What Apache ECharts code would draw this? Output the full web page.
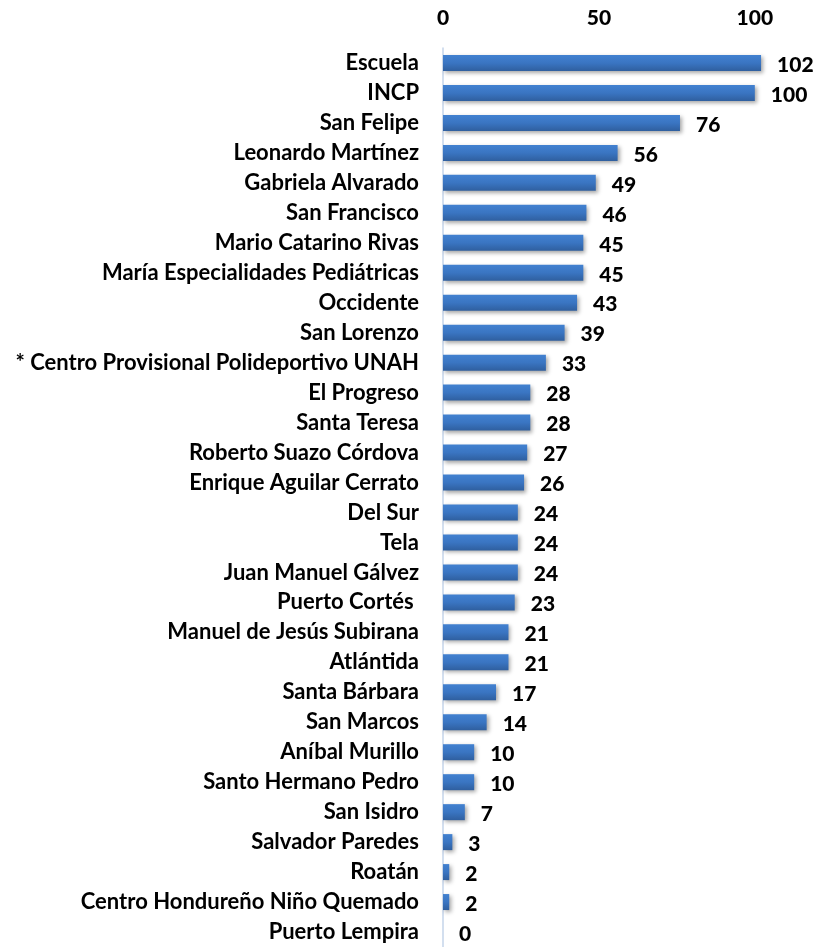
<!DOCTYPE html>
<html>
<head>
<meta charset="utf-8">
<script src="https://cdn.jsdelivr.net/npm/echarts@6/dist/echarts.min.js"></script>
<style>
  html, body { margin: 0; padding: 0; background: #fff; }
  #chart { width: 828px; height: 947px; }
</style>
</head>
<body>
<div id="chart"></div>
<script>
// categories top to bottom
const hospitals = [
  'Escuela', 'INCP', 'San Felipe', 'Leonardo Martínez', 'Gabriela Alvarado',
  'San Francisco', 'Mario Catarino Rivas', 'María Especialidades Pediátricas',
  'Occidente', 'San Lorenzo', '* Centro Provisional Polideportivo UNAH',
  'El Progreso', 'Santa Teresa', 'Roberto Suazo Córdova', 'Enrique Aguilar Cerrato',
  'Del Sur', 'Tela', 'Juan Manuel Gálvez', 'Puerto Cortés ', 'Manuel de Jesús Subirana',
  'Atlántida', 'Santa Bárbara', 'San Marcos', 'Aníbal Murillo', 'Santo Hermano Pedro',
  'San Isidro', 'Salvador Paredes', 'Roatán', 'Centro Hondureño Niño Quemado', 'Puerto Lempira'
]
const values = [102, 100, 76, 56, 49, 46, 45, 45, 43, 39, 33, 28, 28, 27, 26, 24, 24, 24, 23, 21, 21, 17, 14, 10, 10, 7, 3, 2, 2, 0]
const tickValues = [0, 50, 100]

const myChart = echarts.init(document.getElementById('chart'))
const font = 'Lato, "Liberation Sans", sans-serif'

const option = {
  backgroundColor: '#ffffff',
  animation: false,
  grid: {
    left: 443,
    top: 48,
    width: 343,
    height: 902
  },
  xAxis: {
    type: 'value',
    position: 'top',
    min: 0,
    max: 110,
    interval: 50,
    splitLine: { show: false },
    axisLine: { show: false },
    axisTick: { show: false },
    axisLabel: {
      margin: 19,
      color: '#000',
      fontFamily: font,
      fontWeight: 900,
      fontSize: 21,
      formatter: (v) => (tickValues.includes(v) ? String(v) : '')
    }
  },
  yAxis: {
    type: 'category',
    inverse: true,
    data: hospitals,
    axisLine: { show: true, lineStyle: { color: '#c5d5ea', width: 1.5 } },
    axisTick: { show: false },
    axisLabel: {
      margin: 24,
      color: '#000',
      fontFamily: font,
      fontWeight: 'bold',
      fontSize: 22
    }
  },
  series: [
    {
      type: 'bar',
      data: values,
      barWidth: 16,
      itemStyle: {
        color: new echarts.graphic.LinearGradient(0, 0, 0, 1, [
          { offset: 0, color: '#4281d0' },
          { offset: 0.5, color: '#3a75c2' },
          { offset: 1, color: '#2f5f9f' }
        ]),
        shadowColor: 'rgba(0,0,0,0.35)',
        shadowBlur: 4,
        shadowOffsetX: 2,
        shadowOffsetY: 2
      },
      label: {
        show: true,
        position: 'right',
        distance: 16,
        offset: [0, 2],
        color: '#000',
        fontFamily: font,
        fontWeight: 900,
        fontSize: 21
      }
    }
  ]
}
myChart.setOption(option)
</script>
</body>
</html>
